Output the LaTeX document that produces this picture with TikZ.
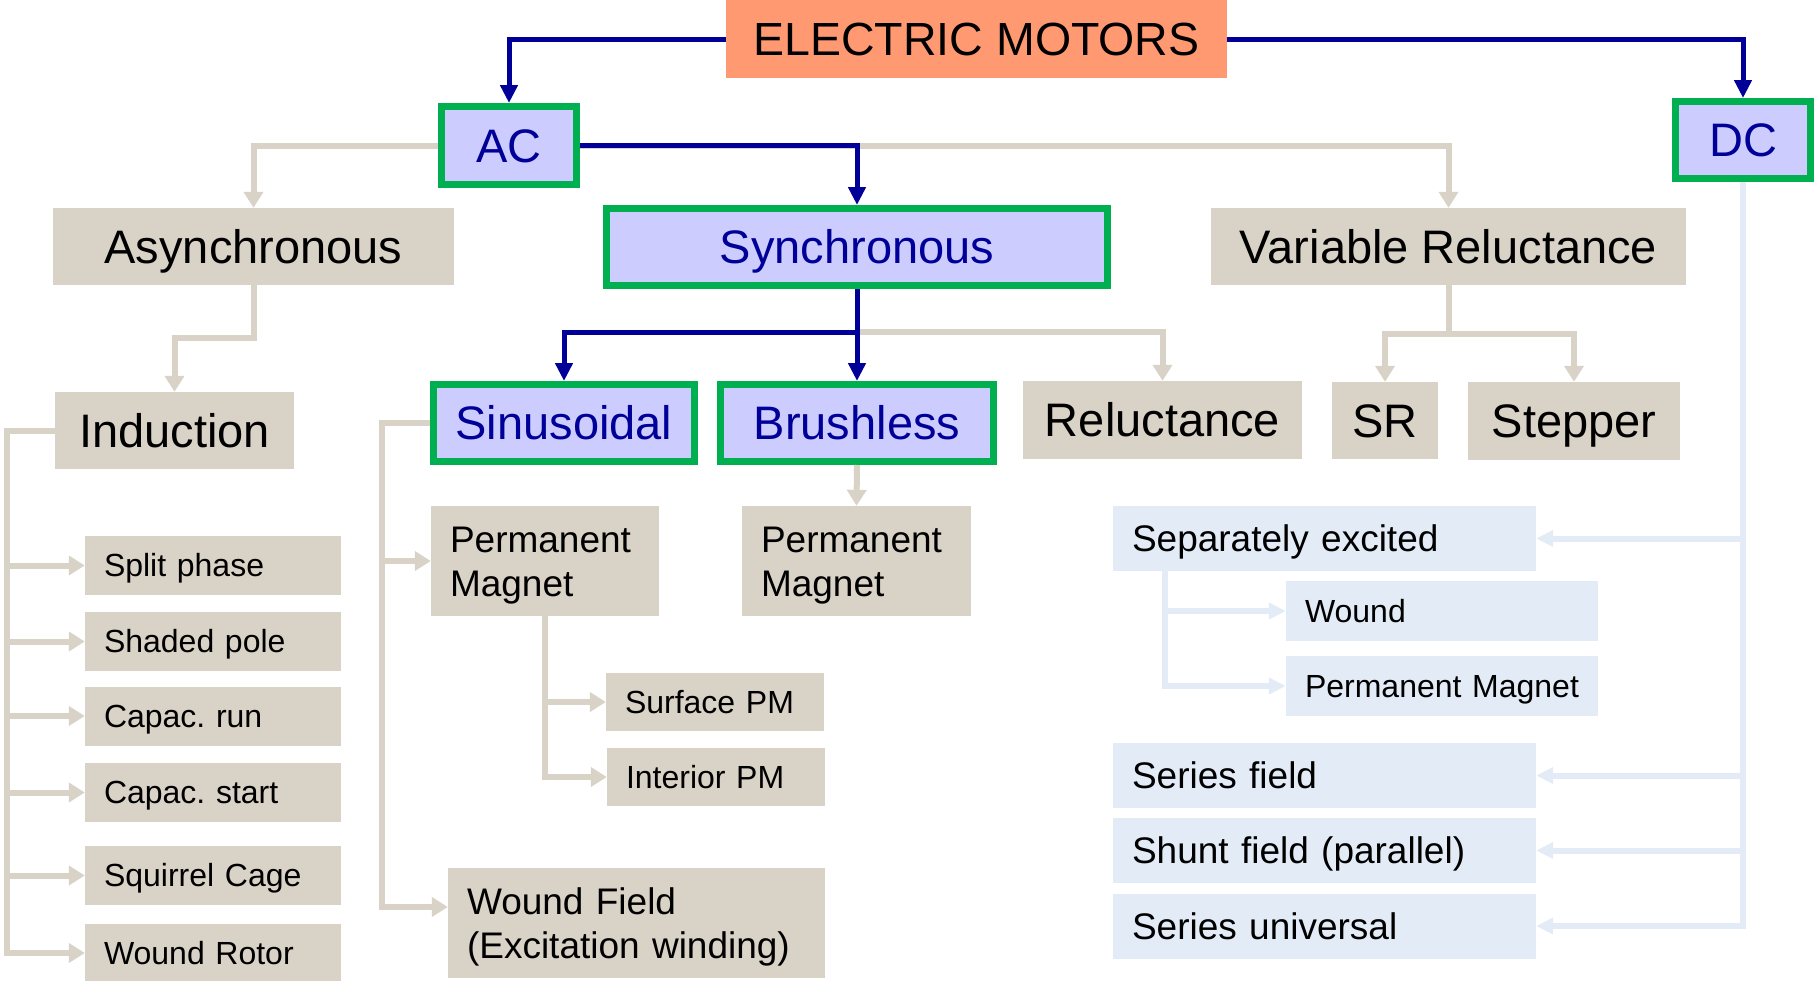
\documentclass[tikz,border=0pt]{standalone}
\usepackage{fontspec}
\setmainfont{Liberation Sans}
\usepackage{tikz}
\usetikzlibrary{arrows.meta}
\definecolor{tanbox}{RGB}{217,210,198}
\definecolor{lavbox}{RGB}{204,204,255}
\definecolor{greenedge}{RGB}{0,176,80}
\definecolor{navy}{RGB}{0,0,153}
\definecolor{salmon}{RGB}{255,153,113}
\definecolor{icebox}{RGB}{227,236,246}
\newcommand{\sizeL}{\fontsize{47}{52}\selectfont}
\newcommand{\sizeM}{\fontsize{37}{44}\selectfont}
\newcommand{\sizeS}{\fontsize{32}{38}\selectfont}
\frenchspacing

\begin{document}
\begin{tikzpicture}[x=1pt, y=-1pt,
  top/.style={fill=salmon, inner sep=0pt, font=\fontsize{46.5}{52}\selectfont, text height=33.3pt, text depth=0pt, minimum width=501pt, minimum height=78pt},
  big/.style={fill=tanbox, inner sep=0pt, font=\sizeL, text height=33.7pt, text depth=0pt, minimum height=77pt},
  sel/.style={big, fill=lavbox, draw=greenedge, line width=7pt, text=navy},
  leaf/.style={fill=tanbox, inner xsep=19pt, inner ysep=0pt, align=left, font=\sizeS, text height=22.9pt, text depth=0pt, text width=218pt, minimum height=59pt},
  mid/.style={fill=tanbox, inner xsep=19pt, inner ysep=0pt, align=left, font=\sizeM, text height=26.5pt, text depth=44pt, minimum height=110pt},
  dcb/.style={fill=icebox, inner xsep=19pt, inner ysep=0pt, align=left, font=\sizeM, text height=26.5pt, text depth=0pt, text width=385pt, minimum height=65pt},
  dcs/.style={dcb, font=\sizeS, text height=22.9pt, text width=274pt, minimum height=60pt},
  barr/.style={draw=navy, line width=5pt, -{Triangle[length=18pt, width=17pt]}},
  garr/.style={draw=tanbox, line width=6pt, -{Triangle[length=16pt, width=19pt]}},
  larr/.style={draw=icebox, line width=6pt, -{Triangle[length=17pt, width=16pt]}}]
  \useasboundingbox (0,0) rectangle (1814,980);
  % coordinates are pixels of the 1814 x 980 sheet, y runs downwards
  \node[top] (em) at (976.5,39) {ELECTRIC MOTORS};
  \node[sel, minimum width=135pt, minimum height=78pt] (ac) at (509,145.5) {AC};
  \node[sel, minimum width=135pt] (dc) at (1743,140) {DC};
  \node[big, minimum width=401pt] (asy) at (253.5,246.5) {Asynchronous};
  \node[sel, minimum width=501pt] (syn) at (857,247) {Synchronous};
  \node[big, minimum width=475pt] (vr) at (1448.5,246.5) {Variable Reluctance};
  \node[big, minimum width=239pt] (ind) at (174.5,430.5) {Induction};
  \node[sel, minimum width=261pt] (sin) at (564,423) {Sinusoidal};
  \node[sel, minimum width=273pt] (bl) at (857,423) {Brushless};
  \node[big, minimum width=279pt, minimum height=78pt] (rel) at (1162.5,420) {Reluctance};
  \node[big, minimum width=106pt] (sr) at (1385,420.5) {SR};
  \node[big, minimum width=212pt, minimum height=78pt] (stp) at (1574,421) {Stepper};
  \node[leaf] (split) at (213,565.5) {Split phase};
  \node[leaf] (shaded) at (213,641.5) {Shaded pole};
  \node[leaf] (crun) at (213,716) {Capac. run};
  \node[leaf] (cstart) at (213,792.5) {Capac. start};
  \node[leaf] (cage) at (213,875.5) {Squirrel Cage};
  \node[leaf] (wrot) at (213,953) {Wound Rotor};
  \node[mid, text width=190pt] (pm1) at (545,561) {Permanent\\Magnet};
  \node[mid, text width=191pt] (pm2) at (856.5,561) {Permanent\\Magnet};
  \node[leaf, text width=180pt, minimum height=58pt] (spm) at (715,702) {Surface PM};
  \node[leaf, text width=180pt, minimum height=58pt] (ipm) at (716,777) {Interior PM};
  \node[mid, text width=339pt] (wf) at (636.5,923) {Wound Field\\(Excitation winding)};
  \node[dcb] (sepx) at (1324.5,538.5) {Separately excited};
  \node[dcs] (wnd) at (1442,611) {Wound};
  \node[dcs] (dpm) at (1442,686) {Permanent Magnet};
  \node[dcb] (serf) at (1324.5,775.5) {Series field};
  \node[dcb] (shf) at (1324.5,850.5) {Shunt field (parallel)};
  \node[dcb] (seru) at (1324.5,926) {Series universal};
  \draw[garr] (ac.west) -| (asy.north);
  \draw[garr] (ac.east) -| (vr.north);
  \draw[garr] (asy.south) -- ++(0,53) -| (ind.north);
  \coordinate (sj) at ([yshift=-43pt]syn.south);
  \draw[garr] (sj) -| (rel.north);
  \draw[garr] (vr.south) -- ++(0,49) coordinate (vj) -| (sr.north);
  \draw[garr] (vj) -| (stp.north);
  \draw[garr] (bl.south) -- (pm2.north);
  \draw[garr] (ind.west) -| ([xshift=-78pt]split.west) -- (split.west);
  \draw[garr] (ind.west) -| ([xshift=-78pt]shaded.west) -- (shaded.west);
  \draw[garr] (ind.west) -| ([xshift=-78pt]crun.west) -- (crun.west);
  \draw[garr] (ind.west) -| ([xshift=-78pt]cstart.west) -- (cstart.west);
  \draw[garr] (ind.west) -| ([xshift=-78pt]cage.west) -- (cage.west);
  \draw[garr] (ind.west) -| ([xshift=-78pt]wrot.west) -- (wrot.west);
  \draw[garr] (sin.west) -| ([xshift=-49pt]pm1.west) -- (pm1.west);
  \draw[garr] (sin.west) -| ([xshift=-66pt,yshift=16pt]wf.west) -- ([yshift=16pt]wf.west);
  \draw[garr] (pm1.south) |- (spm.west);
  \draw[garr] (pm1.south) |- (ipm.west);
  \draw[larr] (dc.south) |- (sepx.east);
  \draw[larr] (dc.south) |- (serf.east);
  \draw[larr] (dc.south) |- (shf.east);
  \draw[larr] (dc.south) |- (seru.east);
  \draw[larr] ([xshift=52pt]sepx.south west) |- (wnd.west);
  \draw[larr] ([xshift=52pt]sepx.south west) |- (dpm.west);
  \draw[barr] (em.west) -| (ac.north);
  \draw[barr] (em.east) -| (dc.north);
  \draw[barr] (ac.east) -| (syn.north);
  \draw[barr] (syn.south) -- (bl.north);
  \draw[barr] (sj) -| (sin.north);
\end{tikzpicture}
\end{document}
